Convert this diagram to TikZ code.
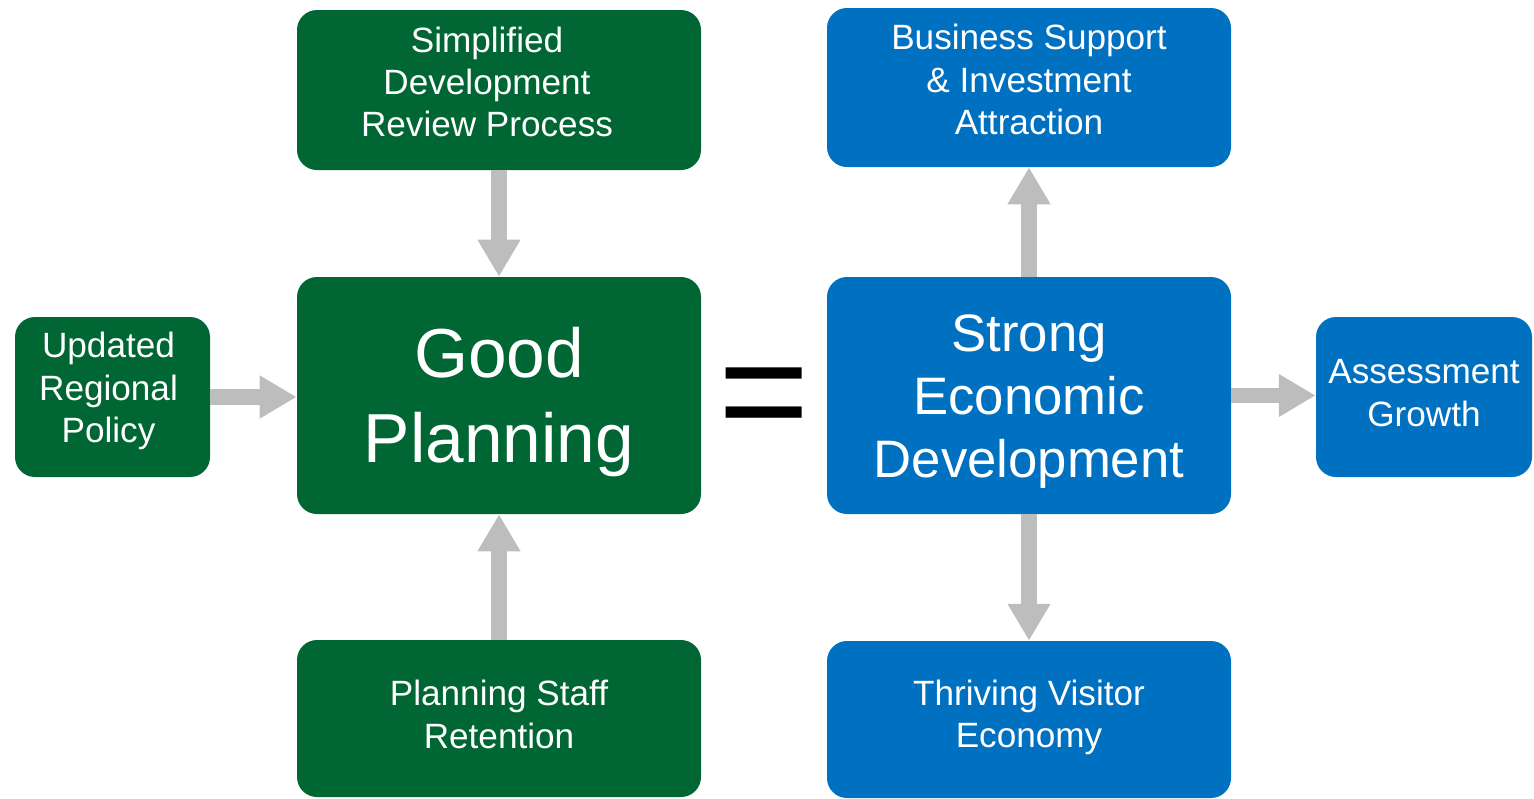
\documentclass[tikz,border=0pt]{standalone}
\usepackage{fontspec}
\setmainfont{Liberation Sans}
\usetikzlibrary{arrows.meta}
\definecolor{pgreen}{HTML}{006633}
\definecolor{pblue}{HTML}{0070C0}
\definecolor{arrgray}{HTML}{BDBDBD}
\tikzset{
  box/.style={rounded corners=0.4cm, inner sep=0pt, draw=none},
  gbox/.style={box, fill=pgreen},
  bbox/.style={box, fill=pblue},
  txt/.style={text=white, align=center, inner sep=0pt, font=\fontsize{20}{24}\selectfont},
  arr/.style={draw=arrgray, line width=9pt, -{Triangle[length=21pt,width=23pt]}}
}
\begin{document}
\begin{tikzpicture}
\useasboundingbox (0,0) rectangle (30.68,-15.96);
% green boxes
\node[gbox, minimum width=8.08cm, minimum height=3.2cm] (simp) at (9.98,-1.8) {};
\node[txt] (simpt) at ([xshift=-0.24cm,yshift=0.16cm]simp.center) {Simplified\\Development\\Review Process};
\node[gbox, minimum width=8.08cm, minimum height=4.74cm] (good) at (9.98,-7.91) {};
\node[txt, font=\fontsize{39.5}{48.4}\selectfont] (goodt) at ([yshift=-0.14cm]good.center) {Good\\Planning};
\node[gbox, minimum width=8.08cm, minimum height=3.14cm] (staff) at (9.98,-14.37) {};
\node[txt] (stafft) at ([yshift=0.08cm]staff.center) {Planning Staff\\Retention};
\node[gbox, minimum width=3.9cm, minimum height=3.2cm] (upd) at (2.25,-7.94) {};
\node[txt] (updt) at ([xshift=-0.08cm,yshift=0.12cm]upd.center) {Updated\\Regional\\Policy};
% blue boxes
\node[bbox, minimum width=8.08cm, minimum height=3.18cm] (bus) at (20.58,-1.75) {};
\node[txt] (bust) at ([yshift=0.16cm]bus.center) {Business Support\\\&~Investment\\Attraction};
\node[bbox, minimum width=8.08cm, minimum height=4.74cm] (strong) at (20.58,-7.91) {};
\node[txt, font=\fontsize{30}{36}\selectfont] (strongt) at ([yshift=-0.12cm]strong.center) {Strong\\Economic\\Development};
\node[bbox, minimum width=8.08cm, minimum height=3.14cm] (thr) at (20.58,-14.39) {};
\node[txt] (thrt) at ([yshift=0.05cm]thr.center) {Thriving Visitor\\Economy};
\node[bbox, minimum width=4.32cm, minimum height=3.2cm] (asm) at (28.48,-7.94) {};
\node[txt] (asmt) at ([yshift=0.08cm]asm.center) {Assessment\\Growth};
% equals
\node[anchor=base, inner sep=0pt, font=\fontsize{89}{89}\selectfont] (eq) at (15.29,-8.88) {=};
% arrows
\draw[arr] (simp.south) -- (good.north);
\draw[arr] (staff.north) -- (good.south);
\draw[arr] (upd.east) -- (upd.east -| good.west);
\draw[arr] (strong.north) -- (bus.south);
\draw[arr] (strong.south) -- (thr.north);
\draw[arr] (strong.east) -- (strong.east -| asm.west);
\end{tikzpicture}
\end{document}
